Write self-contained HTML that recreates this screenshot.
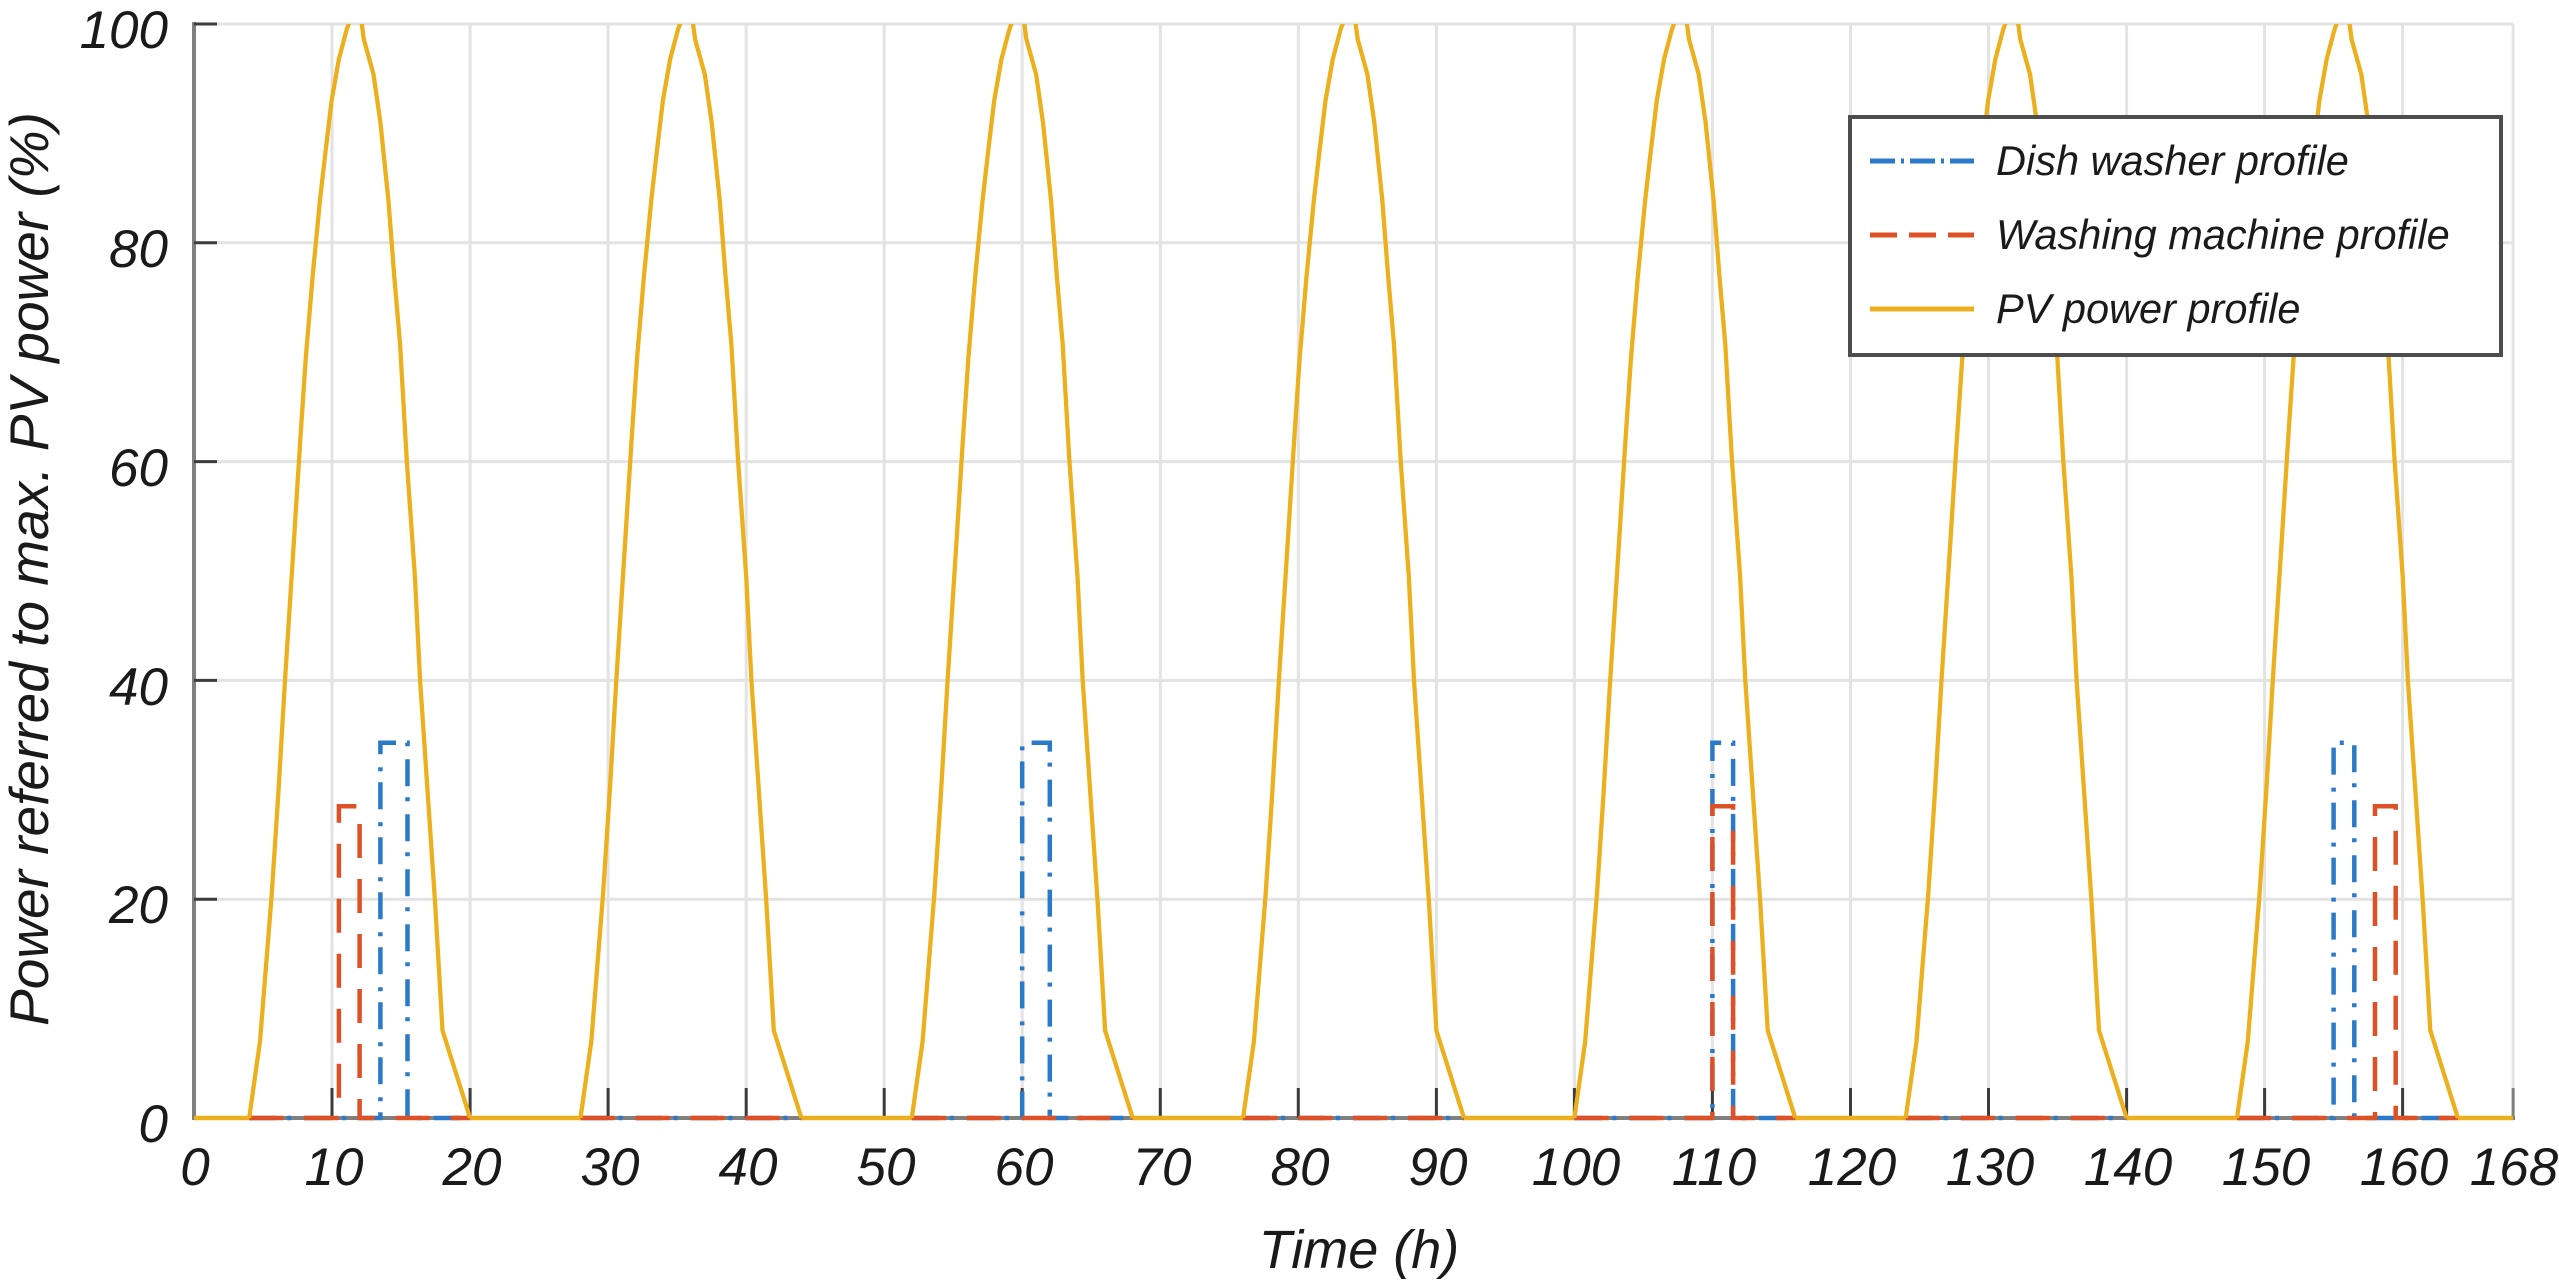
<!DOCTYPE html>
<html>
<head>
<meta charset="utf-8">
<style>
  html, body { margin: 0; padding: 0; background: #ffffff; }
  svg { display: block; }
  text { font-family: "Liberation Sans", Arial, sans-serif; font-style: italic; fill: #1a1a1a; }
</style>
</head>
<body>
<svg width="2559" height="1282" viewBox="0 0 2559 1282" xmlns="http://www.w3.org/2000/svg">
  <defs>
    <clipPath id="plotclip">
      <rect x="150" y="24" width="2400" height="1110"/>
    </clipPath>
    <path id="pvday" d="M249.2,1118 L260,1041.4 L271.7,894.8 L278.3,794.2 L285,680.4 L293.4,549.1 L300.3,439.7 L305.8,357.7 L312.7,275.6 L320,200.1 L325.1,155.3 L331.6,100.6 L338.9,59 L346.7,29.5 L352.7,13.1 L360.3,13.1 L363.8,39.3 L373.5,74.3 L380.4,122.5 L388.4,200.1 L394.2,275.6 L400.1,344.5 L406.7,459.4 L414.9,576.5 L420.1,680.4 L435,901.4 L442.5,1030.5 L470.1,1118" fill="none" stroke="#ecb01f" stroke-width="4.3" stroke-linejoin="round"/>
  </defs>

  <rect x="0" y="0" width="2559" height="1282" fill="#ffffff"/>

  <!-- grid -->
  <g stroke="#e3e3e3" stroke-width="3">
    <line x1="194" y1="899.2" x2="2513" y2="899.2"/>
    <line x1="194" y1="680.4" x2="2513" y2="680.4"/>
    <line x1="194" y1="461.6" x2="2513" y2="461.6"/>
    <line x1="194" y1="242.8" x2="2513" y2="242.8"/>
    <line x1="194" y1="24" x2="2513" y2="24"/>
    <line x1="332" y1="24" x2="332" y2="1118"/>
    <line x1="470.1" y1="24" x2="470.1" y2="1118"/>
    <line x1="608.1" y1="24" x2="608.1" y2="1118"/>
    <line x1="746.2" y1="24" x2="746.2" y2="1118"/>
    <line x1="884.2" y1="24" x2="884.2" y2="1118"/>
    <line x1="1022.2" y1="24" x2="1022.2" y2="1118"/>
    <line x1="1160.3" y1="24" x2="1160.3" y2="1118"/>
    <line x1="1298.3" y1="24" x2="1298.3" y2="1118"/>
    <line x1="1436.4" y1="24" x2="1436.4" y2="1118"/>
    <line x1="1574.4" y1="24" x2="1574.4" y2="1118"/>
    <line x1="1712.4" y1="24" x2="1712.4" y2="1118"/>
    <line x1="1850.5" y1="24" x2="1850.5" y2="1118"/>
    <line x1="1988.5" y1="24" x2="1988.5" y2="1118"/>
    <line x1="2126.6" y1="24" x2="2126.6" y2="1118"/>
    <line x1="2264.6" y1="24" x2="2264.6" y2="1118"/>
    <line x1="2402.6" y1="24" x2="2402.6" y2="1118"/>
    <line x1="2513.1" y1="24" x2="2513.1" y2="1118"/>
  </g>

  <!-- axes -->
  <line x1="194" y1="22" x2="194" y2="1120" stroke="#7f7f7f" stroke-width="4"/>
  <line x1="194" y1="1118" x2="2515" y2="1118" stroke="#7f7f7f" stroke-width="4"/>

  <!-- ticks -->
  <g stroke="#3c3c3c" stroke-width="3">
    <line x1="194" y1="24" x2="217" y2="24"/>
    <line x1="194" y1="242.8" x2="217" y2="242.8"/>
    <line x1="194" y1="461.6" x2="217" y2="461.6"/>
    <line x1="194" y1="680.4" x2="217" y2="680.4"/>
    <line x1="194" y1="899.2" x2="217" y2="899.2"/>
    <line x1="332" y1="1118" x2="332" y2="1088"/>
    <line x1="470.1" y1="1118" x2="470.1" y2="1088"/>
    <line x1="608.1" y1="1118" x2="608.1" y2="1088"/>
    <line x1="746.2" y1="1118" x2="746.2" y2="1088"/>
    <line x1="884.2" y1="1118" x2="884.2" y2="1088"/>
    <line x1="1022.2" y1="1118" x2="1022.2" y2="1088"/>
    <line x1="1160.3" y1="1118" x2="1160.3" y2="1088"/>
    <line x1="1298.3" y1="1118" x2="1298.3" y2="1088"/>
    <line x1="1436.4" y1="1118" x2="1436.4" y2="1088"/>
    <line x1="1574.4" y1="1118" x2="1574.4" y2="1088"/>
    <line x1="1712.4" y1="1118" x2="1712.4" y2="1088"/>
    <line x1="1850.5" y1="1118" x2="1850.5" y2="1088"/>
    <line x1="1988.5" y1="1118" x2="1988.5" y2="1088"/>
    <line x1="2126.6" y1="1118" x2="2126.6" y2="1088"/>
    <line x1="2264.6" y1="1118" x2="2264.6" y2="1088"/>
    <line x1="2402.6" y1="1118" x2="2402.6" y2="1088"/>
  </g>
  <line x1="2513.1" y1="1118" x2="2513.1" y2="1088" stroke="#7f7f7f" stroke-width="3"/>

  <g clip-path="url(#plotclip)">
    <!-- dish washer (blue dash-dot) -->
    <g fill="none" stroke="#2a7ac9" stroke-width="4.5" stroke-dasharray="27 11 4 13">
      <path d="M249.2,1118 H380.4 V742.8 H407.5 V1118 H470.1"/>
      <path d="M580.5,1118 H801.4"/>
      <path d="M911.8,1118 H1022.2 V742.8 H1049.8 V1118 H1132.7"/>
      <path d="M1243.1,1118 H1464"/>
      <path d="M1574.4,1118 H1712.4 V742.8 H1733.1 V1118 H1795.3"/>
      <path d="M1905.7,1118 H2126.6"/>
      <path d="M2237,1118 H2333.6 V742.8 H2354.3 V1118 H2457.9"/>
    </g>
    <!-- washing machine (red dashed) -->
    <g fill="none" stroke="#de5127" stroke-width="4.5" stroke-dasharray="34 21">
      <path d="M249.2,1118 H338.9 V806.2 H359.6 V1118 H470.1"/>
      <path d="M580.5,1118 H801.4"/>
      <path d="M911.8,1118 H1132.7"/>
      <path d="M1243.1,1118 H1464"/>
      <path d="M1574.4,1118 H1712.4 V806.2 H1733.1 V1118 H1795.3"/>
      <path d="M1905.7,1118 H2126.6"/>
      <path d="M2237,1118 H2375 V806.2 H2395.7 V1118 H2457.9"/>
    </g>
    <!-- PV -->
    <path d="M194,1118H249.2 M470.1,1118H580.5 M801.4,1118H911.8 M1132.7,1118H1243.1 M1464,1118H1574.4 M1795.3,1118H1905.7 M2126.6,1118H2237 M2457.9,1118H2513.1" fill="none" stroke="#ecb01f" stroke-width="4.5"/>
    <use href="#pvday" transform="translate(0,0)"/>
    <use href="#pvday" transform="translate(331.3,0)"/>
    <use href="#pvday" transform="translate(662.6,0)"/>
    <use href="#pvday" transform="translate(993.9,0)"/>
    <use href="#pvday" transform="translate(1325.2,0)"/>
    <use href="#pvday" transform="translate(1656.5,0)"/>
    <use href="#pvday" transform="translate(1987.8,0)"/>
  </g>

  <!-- y tick labels -->
  <g font-size="53" text-anchor="end">
    <text x="168" y="48">100</text>
    <text x="168" y="267">80</text>
    <text x="168" y="486">60</text>
    <text x="168" y="705">40</text>
    <text x="168" y="923">20</text>
    <text x="168" y="1142">0</text>
  </g>

  <!-- x tick labels -->
  <g font-size="53" text-anchor="middle">
    <text x="195" y="1185">0</text>
    <text x="334" y="1185">10</text>
    <text x="472" y="1185">20</text>
    <text x="610" y="1185">30</text>
    <text x="748" y="1185">40</text>
    <text x="886" y="1185">50</text>
    <text x="1024" y="1185">60</text>
    <text x="1162" y="1185">70</text>
    <text x="1300" y="1185">80</text>
    <text x="1438" y="1185">90</text>
    <text x="1576" y="1185">100</text>
    <text x="1714" y="1185">110</text>
    <text x="1852" y="1185">120</text>
    <text x="1990" y="1185">130</text>
    <text x="2128" y="1185">140</text>
    <text x="2266" y="1185">150</text>
    <text x="2404" y="1185">160</text>
    <text x="2514" y="1185">168</text>
  </g>

  <!-- axis labels -->
  <text x="1359" y="1268" font-size="54" text-anchor="middle">Time (h)</text>
  <text transform="translate(48,569) rotate(-90)" font-size="55" text-anchor="middle">Power referred to max. PV power (%)</text>

  <!-- legend -->
  <rect x="1850" y="117" width="651" height="238" fill="#ffffff" stroke="#4d4d4d" stroke-width="4"/>
  <line x1="1870" y1="161" x2="1974" y2="161" stroke="#2a7ac9" stroke-width="5" stroke-dasharray="25 6 3 6"/>
  <line x1="1870" y1="235" x2="1974" y2="235" stroke="#de5127" stroke-width="5" stroke-dasharray="27 12"/>
  <line x1="1870" y1="309" x2="1974" y2="309" stroke="#ecb01f" stroke-width="5"/>
  <g font-size="41.5">
    <text x="1996" y="175">Dish washer profile</text>
    <text x="1996" y="249">Washing machine profile</text>
    <text x="1996" y="323">PV power profile</text>
  </g>
</svg>
</body>
</html>
